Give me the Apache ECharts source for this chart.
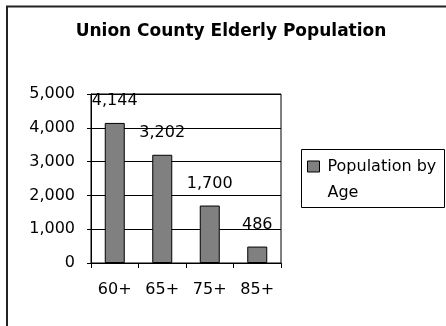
<!DOCTYPE html>
<html>
<head>
<meta charset="utf-8">
<script src="https://cdn.jsdelivr.net/npm/echarts@6/dist/echarts.min.js"></script>
<style>
  html, body { margin: 0; padding: 0; background: #fff; }
  #chart { width: 446px; height: 326px; }
</style>
</head>
<body>
<div id="chart"></div>
<script>
// Age groups and head counts
const ageGroups = ['60+', '65+', '75+', '85+'];
const population = [4144, 3202, 1700, 486];
const seriesName = 'Population by\nAge';
const yTicks = { min: 0, max: 5000, interval: 1000 };

const FONT = '"DejaVu Sans", sans-serif';

const chart = echarts.init(document.getElementById('chart'), null, { renderer: 'canvas' });

chart.setOption({
  animation: false,
  backgroundColor: '#fff',
  title: {
    text: 'Union County Elderly Population',
    left: 231,
    textAlign: 'center',
    top: 23,
    padding: 0,
    textStyle: { fontFamily: FONT, fontSize: 17, fontWeight: 'bold', color: '#000' }
  },
  graphic: [
    {
      type: 'rect',
      shape: { x: 7, y: 6.5, width: 500, height: 400 },
      style: { fill: 'none', stroke: '#222', lineWidth: 2 },
      silent: true
    },
    {
      type: 'rect',
      shape: { x: 301.5, y: 149.5, width: 143, height: 58 },
      style: { fill: '#fff', stroke: '#000', lineWidth: 1 },
      silent: true,
      z: 0
    }
  ],
  legend: {
    left: 307,
    top: 127.5,
    padding: 0,
    itemWidth: 12,
    itemHeight: 11,
    icon: 'rect',
    z: 5,
    itemStyle: { color: '#808080', borderColor: '#000', borderWidth: 1 },
    // leading blank line keeps the first text line level with the swatch
    formatter: name => '\n' + name,
    textStyle: {
      fontFamily: FONT, fontSize: 16, color: '#000', lineHeight: 26,
      padding: [0, 0, 0, 3]
    },
    data: [seriesName]
  },
  grid: {
    left: 91, right: 165, top: 94, bottom: 63,
    show: true, borderColor: '#000', borderWidth: 1, backgroundColor: 'transparent'
  },
  xAxis: {
    type: 'category',
    data: ageGroups,
    axisLine: { lineStyle: { color: '#000', width: 1 } },
    axisTick: { show: true, length: 5, inside: false, lineStyle: { color: '#000' } },
    axisLabel: { fontFamily: FONT, fontSize: 16, color: '#000', margin: 19 },
    splitLine: { show: false }
  },
  yAxis: {
    type: 'value',
    min: yTicks.min, max: yTicks.max, interval: yTicks.interval,
    axisLine: { show: true, lineStyle: { color: '#000', width: 1 } },
    axisTick: { show: true, length: 4, lineStyle: { color: '#000' } },
    axisLabel: {
      fontFamily: FONT, fontSize: 16, color: '#000', margin: 16,
      formatter: v => v.toLocaleString('en-US')
    },
    splitLine: { show: true, lineStyle: { color: '#000', width: 1 } }
  },
  series: [{
    name: seriesName,
    type: 'bar',
    data: population,
    barWidth: 20,
    itemStyle: { color: '#808080', borderColor: '#000', borderWidth: 1 },
    label: {
      show: true,
      position: 'top',
      distance: 14,
      fontFamily: FONT, fontSize: 16, color: '#000',
      formatter: p => p.value.toLocaleString('en-US')
    }
  }]
});
</script>
</body>
</html>
